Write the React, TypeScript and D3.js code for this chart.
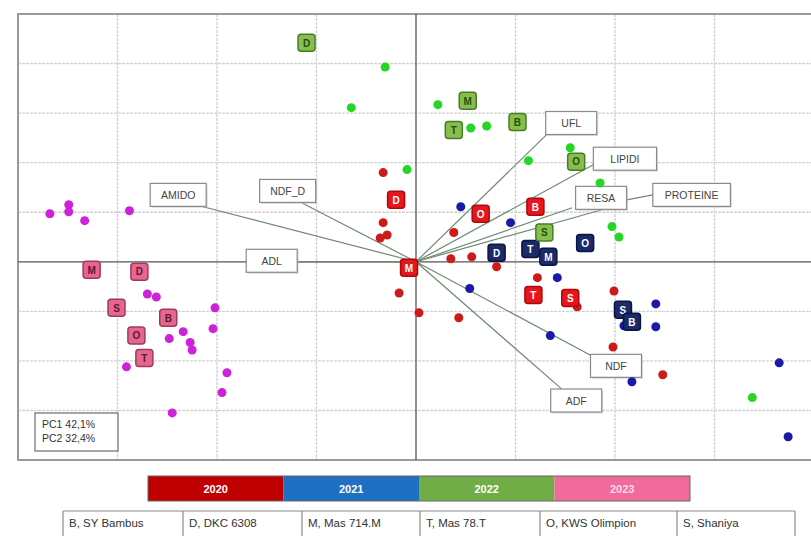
import React from "react";
import * as d3 from "d3";

// ---------- DATA ----------
const years = ["2020", "2021", "2022", "2023"];

// unlabelled observations [PC1, PC2]
const pts2020: [number, number][] = [
  [-0.33, 1.8], [-0.33, 0.79], [-0.29, 0.54], [-0.36, 0.48], [0.38, 0.59], [0.35, 0.06],
  [0.56, 0.1], [0.81, -0.1], [1.22, -0.32], [-0.17, -0.63], [0.03, -1.03], [0.43, -1.13],
  [1.62, -0.91], [1.99, -0.59], [1.98, -1.72], [2.48, -2.28],
];
const pts2021: [number, number][] = [
  [0.45, 1.11], [0.95, 0.79], [1.42, -0.32], [0.54, -0.54], [1.35, -1.49], [2.41, -0.85],
  [2.41, -1.31], [2.17, -2.42], [3.65, -2.04], [3.74, -3.53], [2.09, -1.29],
];
const pts2022: [number, number][] = [
  [-0.31, 3.93], [-0.65, 3.11], [-0.09, 1.86], [0.22, 3.17], [0.55, 2.7], [0.71, 2.74],
  [1.13, 2.04], [1.55, 2.3], [1.85, 1.59], [1.97, 0.71], [2.04, 0.5], [3.38, -2.74],
];
const pts2023: [number, number][] = [
  [-3.68, 0.97], [-3.49, 1.15], [-3.49, 1.01], [-3.33, 0.83], [-2.88, 1.03], [-2.7, -0.65],
  [-2.61, -0.71], [-2.02, -0.93], [-2.04, -1.35], [-2.34, -1.41], [-2.48, -1.55], [-2.27, -1.63],
  [-2.25, -1.78], [-2.91, -2.12], [-1.9, -2.24], [-1.95, -2.64], [-2.45, -3.05],
];

// labelled variety means [letter, PC1, PC2]
const lab2020: [string, number, number][] = [
  ["D", -0.2, 1.25], ["M", -0.07, -0.12], ["O", 0.65, 0.97], ["B", 1.2, 1.11], ["T", 1.18, -0.67], ["S", 1.55, -0.73],
];
const lab2021: [string, number, number][] = [
  ["D", 0.81, 0.18], ["T", 1.15, 0.26], ["M", 1.33, 0.1], ["O", 1.7, 0.38], ["S", 2.08, -0.97], ["B", 2.17, -1.21],
];
const lab2022: [string, number, number][] = [
  ["D", -1.1, 4.42], ["M", 0.52, 3.25], ["T", 0.38, 2.66], ["B", 1.02, 2.82], ["O", 1.61, 2.02], ["S", 1.29, 0.59],
];
const lab2023: [string, number, number][] = [
  ["M", -3.26, -0.16], ["D", -2.78, -0.2], ["S", -3.01, -0.93], ["B", -2.49, -1.13], ["O", -2.81, -1.49], ["T", -2.73, -1.94],
];

// loading vectors: name, end PC1, end PC2, label centre PC1, PC2
const loadingNames = ["AMIDO", "NDF_D", "ADL", "UFL", "LIPIDI", "RESA", "PROTEINE", "NDF", "ADF"];
const loadingEnds: [number, number][] = [
  [-2.14, 1.11], [-1.15, 1.19], [-1.19, 0.0], [1.31, 2.56], [1.8, 1.98], [1.57, 1.09], [1.87, 1.05], [1.75, -1.88], [1.46, -2.56],
];
const loadingLabelAt: [number, number][] = [
  [-2.39, 1.35], [-1.29, 1.43], [-1.45, 0.02], [1.56, 2.8], [2.1, 2.08], [1.86, 1.29], [2.77, 1.35], [2.01, -2.1], [1.61, -2.80],
];

const varieties = ["B, SY Bambus", "D, DKC 6308", "M, Mas 714.M", "T, Mas 78.T", "O, KWS Olimpion", "S, Shaniya"];
const pcText = ["PC1 42,1%", "PC2 32,4%"];

const xTicks = [-3, -2, -1, 1, 2, 3];
const yTicks = [4, 3, 2, 1, -1, -2, -3];

// ---------- STYLE ----------
const dotColors = ["#cc1b1b", "#1a1aa8", "#25d625", "#cc22d8"];
const boxFill = ["#e8161c", "#1b2a68", "#86c04c", "#e8668e"];
const boxStroke = ["#a80c0c", "#0b1440", "#4d7a2a", "#9c3c5c"];
const boxText = ["#ffffff", "#ffffff", "#2d4a12", "#5a1a32"];
const barColors = ["#c00000", "#1f6fc3", "#70ad47", "#f06b9c"];
const barText = ["#ffffff", "#ffffff", "#ffffff", "#ffd8e6"];

const FONT = "'Liberation Sans', Arial, sans-serif";

export default function App() {
  const W = 811, H = 536;
  const x = d3.scaleLinear().domain([-4, 4]).range([18, 814]);
  const y = d3.scaleLinear().domain([-4, 5]).range([460, 14]);
  const allPts = [pts2020, pts2021, pts2022, pts2023];
  const allLabs = [lab2020, lab2021, lab2022, lab2023];

  const labelW = (s: string) => Math.max(51, s.length * 7.2 + 20);

  const barX = d3.scaleBand().domain(years).range([148, 690]);
  const tableWidths = [120, 119, 118, 120, 137, 118];
  let acc = 63;
  const tableCells = varieties.map((v, i) => {
    const c = { v, x0: acc, w: tableWidths[i] };
    acc += tableWidths[i];
    return c;
  });

  const ox = x(0), oy = y(0);

  return (
    <svg width={W} height={H} style={{ position: "absolute", left: 0, top: 0, background: "#fff" }} fontFamily={FONT}>
      <rect x={0} y={0} width={W} height={H} fill="#fff" />
      {/* grid */}
      {xTicks.map((t) => (
        <line key={"gx" + t} x1={x(t)} x2={x(t)} y1={y(5)} y2={y(-4)} stroke="#d2d2d2" strokeWidth={1.4} strokeDasharray="3,1" />
      ))}
      {yTicks.map((t) => (
        <line key={"gy" + t} x1={x(-4)} x2={x(4)} y1={y(t)} y2={y(t)} stroke="#d2d2d2" strokeWidth={1.4} strokeDasharray="3,1" />
      ))}
      {/* frame */}
      <rect x={x(-4)} y={y(5)} width={x(4) - x(-4)} height={y(-4) - y(5)} fill="none" stroke="#9a9a9a" strokeWidth={2} />
      {/* axes */}
      <line x1={ox} x2={ox} y1={y(5)} y2={y(-4)} stroke="#555" strokeWidth={1.3} />
      <line x1={x(-4)} x2={x(4)} y1={oy} y2={oy} stroke="#555" strokeWidth={1.3} />

      {/* loading vectors */}
      {loadingEnds.map((e, i) => (
        <line key={"lv" + i} x1={ox} y1={oy} x2={x(e[0])} y2={y(e[1])} stroke="#6f8a72" strokeWidth={1.2} />
      ))}
      {/* leader from RESA box to PROTEINE box */}
      <line
        x1={x(loadingLabelAt[5][0]) + labelW("RESA") / 2}
        y1={y(loadingLabelAt[5][1]) + 2}
        x2={x(loadingLabelAt[6][0]) - labelW("PROTEINE") / 2}
        y2={y(loadingLabelAt[6][1])}
        stroke="#6f8a72"
        strokeWidth={1.2}
      />
      {/* loading labels */}
      {loadingNames.map((n, i) => {
        const cx = x(loadingLabelAt[i][0]);
        const cy = y(loadingLabelAt[i][1]);
        const w = labelW(n);
        return (
          <g key={"ll" + n}>
            <rect x={cx - w / 2 + 1.5} y={cy - 11.5 + 1.5} width={w} height={23} fill="#bdbdbd" opacity={0.5} />
            <rect x={cx - w / 2} y={cy - 11.5} width={w} height={23} fill="#fff" stroke="#8a8a8a" strokeWidth={1.2} />
            <text x={cx} y={cy + 4} textAnchor="middle" fontSize={10.5} fill="#444">{n}</text>
          </g>
        );
      })}

      {/* points */}
      {allPts.map((arr, k) =>
        arr.map((p, j) => <circle key={"p" + k + "-" + j} cx={x(p[0])} cy={y(p[1])} r={4.5} fill={dotColors[k]} />)
      )}

      {/* labelled boxes */}
      {allLabs.map((arr, k) =>
        arr.map((l, j) => (
          <g key={"b" + k + "-" + j}>
            <rect x={x(l[1]) - 8.5} y={y(l[2]) - 8.5} width={17} height={17} rx={3} fill={boxFill[k]} stroke={boxStroke[k]} strokeWidth={1.5} />
            <text x={x(l[1])} y={y(l[2]) + 3.8} textAnchor="middle" fontSize={10} fontWeight="bold" fill={boxText[k]}>{l[0]}</text>
          </g>
        ))
      )}

      {/* PC box */}
      <rect x={35} y={413} width={83} height={38} fill="#fff" stroke="#777" strokeWidth={1.3} />
      {pcText.map((t, i) => (
        <text key={t} x={42} y={428 + i * 14} fontSize={10.5} fill="#333">{t}</text>
      ))}

      {/* year colour bar */}
      {years.map((yr, i) => (
        <g key={yr}>
          <rect x={barX(yr)!} y={476} width={barX.bandwidth()} height={25} fill={barColors[i]} />
          <text x={barX(yr)! + barX.bandwidth() / 2} y={492.5} textAnchor="middle" fontSize={11} fontWeight="bold" fill={barText[i]}>{yr}</text>
        </g>
      ))}
      <rect x={148} y={476} width={542} height={25} fill="none" stroke="#666" strokeWidth={1} />

      {/* variety table */}
      <line x1={63} x2={795} y1={511} y2={511} stroke="#8a8a8a" strokeWidth={1.2} />
      {tableCells.map((c) => (
        <g key={c.v}>
          <line x1={c.x0} x2={c.x0} y1={511} y2={536} stroke="#8a8a8a" strokeWidth={1.2} />
          <text x={c.x0 + 6} y={527} fontSize={11.5} fill="#333">{c.v}</text>
        </g>
      ))}
      <line x1={795} x2={795} y1={511} y2={536} stroke="#8a8a8a" strokeWidth={1.2} />
    </svg>
  );
}
